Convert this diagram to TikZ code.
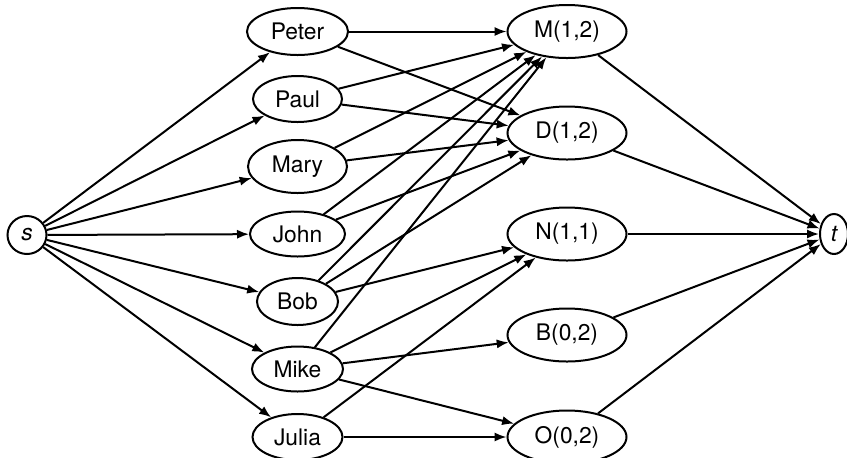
\documentclass[tikz,border=0pt]{standalone}
\usepackage{fontspec}
\setmainfont{TeX Gyre Heros}
\usetikzlibrary{shapes.geometric,arrows.meta}
\begin{document}
\begin{tikzpicture}[x=0.5pt,y=-0.5pt,
  vert/.style={draw,ellipse,inner sep=0pt,line width=1pt,font=\fontsize{11.4}{13}\selectfont},
  pers/.style={vert,minimum height=23pt},
  res/.style={vert,minimum width=59.5pt,minimum height=26.5pt},
  edge/.style={line width=1pt,-{Latex[length=6pt,width=4.6pt]}}]
\useasboundingbox (0,0) rectangle (847,457);
\node[vert,minimum width=19.5pt,minimum height=19pt] (s) at (27,235) {\itshape s};
\node[vert,minimum width=14pt,minimum height=20pt] (t) at (834,234) {\itshape t};
\node[pers,minimum width=50.5pt,minimum height=23.5pt] (peter) at (297.5,31.5) {Peter};
\node[pers,minimum width=44.5pt] (paul) at (297.5,99) {Paul};
\node[pers,minimum width=49.5pt,minimum height=26.5pt] (mary) at (297.5,166.5) {Mary};
\node[pers,minimum width=47.5pt,minimum height=22.5pt] (john) at (297.5,234) {John};
\node[pers,minimum width=40.5pt,minimum height=23.5pt] (bob) at (297.5,301.5) {Bob};
\node[pers,minimum width=45.5pt,minimum height=22.5pt] (mike) at (297.5,369) {Mike};
\node[pers,minimum width=45pt] (julia) at (297.5,437) {Julia};
\node[res] (M) at (567,31.5) {M(1,2)};
\node[res] (D) at (567,133) {D(1,2)};
\node[res] (N) at (567,234) {N(1,1)};
\node[res] (B) at (567,335) {B(0,2)};
\node[res] (O) at (567,437) {O(0,2)};
\foreach \p in {peter,paul,mary,john,bob,mike,julia} \draw[edge] (s) -- (\p);
\foreach \a/\b in {peter/M,peter/D,paul/M,paul/D,mary/M,mary/D,john/M,john/D,
  bob/M,bob/D,bob/N,mike/M,mike/N,mike/B,mike/O,julia/N,julia/O}
  \draw[edge] (\a) -- (\b);
\foreach \r in {M,D,N,B,O} \draw[edge] (\r) -- (t);
\end{tikzpicture}
\end{document}
